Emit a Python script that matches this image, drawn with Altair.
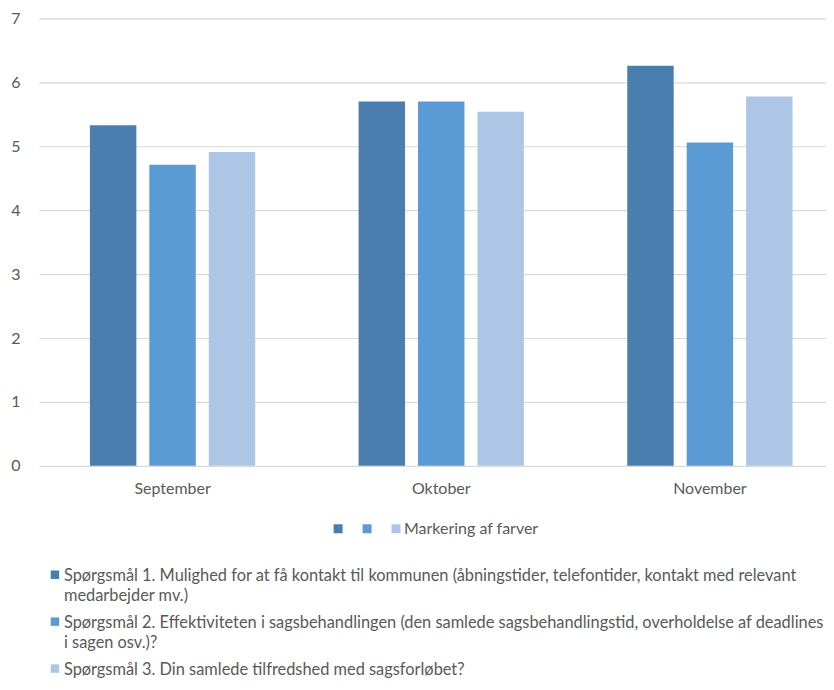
import altair as alt
import pandas as pd

FONT = "Lato"
TXT = "#595959"

months = ["September", "Oktober", "November"]
series = ["Spørgsmål 1", "Spørgsmål 2", "Spørgsmål 3"]
q1_values = [5.33, 5.70, 6.26]
q2_values = [4.71, 5.70, 5.06]
q3_values = [4.91, 5.54, 5.78]
colors = ["#4A7EAF", "#5B9BD5", "#ADC6E5"]
legend_labels = ["", "", "Markering af farver"]
question_texts = [
    "Spørgsmål 1. Mulighed for at få kontakt til kommunen (åbningstider, telefontider, kontakt med relevant\nmedarbejder mv.)",
    "Spørgsmål 2. Effektiviteten i sagsbehandlingen (den samlede sagsbehandlingstid, overholdelse af deadlines\ni sagen osv.)?",
    "Spørgsmål 3. Din samlede tilfredshed med sagsforløbet?",
]
y_ticks = [0, 1, 2, 3, 4, 5, 6, 7]

rows = []
for s, vals in zip(series, [q1_values, q2_values, q3_values]):
    for m, v in zip(months, vals):
        rows.append({"month": m, "series": s, "value": v})
df = pd.DataFrame(rows)

leg_df = pd.DataFrame({"series": series, "label": legend_labels})
q_df = pd.DataFrame({"series": series, "text": question_texts})

color_scale = alt.Scale(domain=series, range=colors)

top = alt.Chart(df).mark_bar().encode(
    x=alt.X("month:N", sort=months,
            scale=alt.Scale(paddingInner=0.3848, paddingOuter=0.1571, align=0.6036),
            axis=alt.Axis(title=None, labelAngle=0, domain=False, ticks=False,
                          labelPadding=15, labelFontSize=16, labelColor=TXT,
                          labelFont=FONT, grid=False)),
    xOffset=alt.XOffset("series:N", sort=series,
                        scale=alt.Scale(paddingInner=0.2185, paddingOuter=0)),
    y=alt.Y("value:Q", scale=alt.Scale(domain=[0, 7]),
            axis=alt.Axis(title=None, values=y_ticks, domain=False, ticks=False,
                          gridColor="#D9D9D9", gridWidth=1.2, labelPadding=19,
                          labelFontSize=16, labelColor=TXT, labelFont=FONT)),
    color=alt.Color("series:N", scale=color_scale, legend=None),
).properties(width=788, height=448)

leg_x = alt.X("series:N", sort=series, axis=None,
              scale=alt.Scale(type="point", range=[299.5, 357.5], padding=0))

leg_squares = alt.Chart(leg_df).mark_square(size=81, opacity=1, strokeWidth=0).encode(
    x=leg_x,
    y=alt.value(0),
    color=alt.Color("series:N", scale=color_scale, legend=None),
)
leg_text = alt.Chart(leg_df).mark_text(align="left", baseline="middle", dx=8,
                                       font=FONT, fontSize=16, color=TXT).encode(
    x=leg_x,
    y=alt.value(0),
    text="label:N",
)

q_y = alt.Y("series:N", sort=series, axis=None,
            scale=alt.Scale(type="point", range=[46, 140], padding=0))
q_squares = alt.Chart(q_df).mark_square(size=72, opacity=1, strokeWidth=0).encode(
    x=alt.value(16),
    y=q_y,
    color=alt.Color("series:N", scale=color_scale, legend=None),
)
q_text = alt.Chart(q_df).mark_text(align="left", baseline="top", dy=-7, lineBreak="\n",
                                   lineHeight=20, font=FONT, fontSize=16.4, color=TXT).encode(
    x=alt.value(25),
    y=q_y,
    text="text:N",
)

bottom = alt.layer(leg_squares, leg_text, q_squares, q_text).properties(width=788, height=140)

chart = alt.vconcat(top, bottom, spacing=24).properties(
    padding={"left": 2, "top": 2, "right": 0, "bottom": 0}
).configure(font=FONT).configure_view(stroke=None)

chart.save("out.html", embed_options={"renderer": "svg", "actions": False})
